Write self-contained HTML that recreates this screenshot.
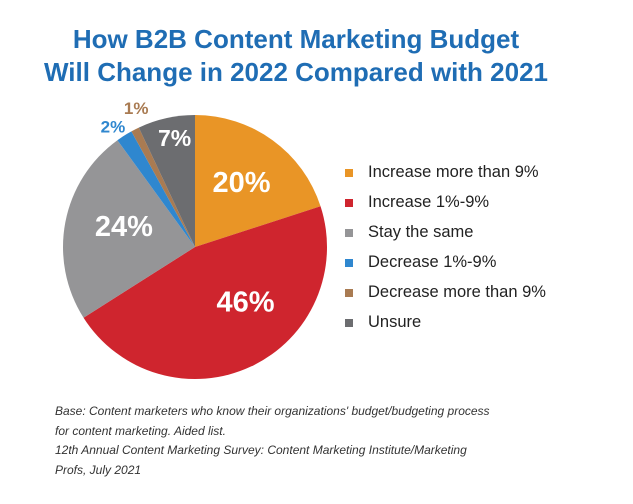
<!DOCTYPE html>
<html><head><meta charset="utf-8"><style>
body{margin:0;background:#fff;}
#wrap{position:relative;width:633px;height:504px;overflow:hidden;font-family:"Liberation Sans",sans-serif;}
.title{position:absolute;left:0;width:592px;text-align:center;color:#1f6db4;font-weight:bold;font-size:26px;line-height:32px;}
.leg{position:absolute;left:345px;font-size:16.5px;color:#222;height:20px;line-height:20px;}
.leg i{position:absolute;left:0;top:7px;width:8px;height:8px;}
.leg span{position:absolute;left:23px;top:0;white-space:nowrap;}
.note{position:absolute;left:55px;top:402px;font-size:12px;font-style:italic;color:#333;line-height:19.5px;}
</style></head><body>
<div id="wrap">
<div class="title" style="top:23px">How B2B Content Marketing Budget</div>
<div class="title" style="top:56px">Will Change in 2022 Compared with 2021</div>
<svg id="pie" width="633" height="504" style="position:absolute;left:0;top:0"></svg>
<div id="legend"></div>
<div class="note">Base: Content marketers who know their organizations' budget/budgeting process<br>for content marketing. Aided list.<br>12th Annual Content Marketing Survey: Content Marketing Institute/Marketing<br>Profs, July 2021</div>
</div>
<script>
const categories=["Increase more than 9%","Increase 1%-9%","Stay the same","Decrease 1%-9%","Decrease more than 9%","Unsure"];
const values=[20,46,24,2,1,7];
const labels=["20%","46%","24%","2%","1%","7%"];
const colors=["#e99526","#cf252e","#959597","#2f87cf","#a97b52","#6c6d70"];
const labelColors=["#fff","#fff","#fff","#2f87cf","#a97b52","#fff"];
const labelR=[0.6,0.57,0.56,1.1,1.14,0.84];
const labelDA=[0,-17,5,-2,4,2];
const labelSize=[29,29,29,17,17,23];
const cx=195,cy=247,R=132;
const svg=document.getElementById('pie');
const NS='http://www.w3.org/2000/svg';
const total=values.reduce((a,b)=>a+b,0);
function pt(a,r){const t=a*Math.PI/180;return [cx+r*Math.sin(t),cy-r*Math.cos(t)];}
let acc=0;
values.forEach((v,i)=>{
  const a0=acc/total*360,a1=(acc+v)/total*360;acc+=v;
  const p0=pt(a0,R),p1=pt(a1,R);
  const p=document.createElementNS(NS,'path');
  p.setAttribute('d',`M${cx},${cy}L${p0[0]},${p0[1]}A${R},${R} 0 ${a1-a0>180?1:0} 1 ${p1[0]},${p1[1]}Z`);
  p.setAttribute('fill',colors[i]);
  
  
  svg.appendChild(p);
  const m=(a0+a1)/2+labelDA[i];
  const lp=pt(m,R*labelR[i]);
  const t=document.createElementNS(NS,'text');
  t.setAttribute('x',lp[0]);t.setAttribute('y',lp[1]);
  t.setAttribute('text-anchor','middle');t.setAttribute('dominant-baseline','central');
  t.setAttribute('font-family','Liberation Sans, sans-serif');t.setAttribute('font-weight','bold');
  t.setAttribute('font-size',labelSize[i]);t.setAttribute('fill',labelColors[i]);
  t.textContent=labels[i];
  
  
  svg.appendChild(t);
});
const leg=document.getElementById('legend');
categories.forEach((c,i)=>{
  const d=document.createElement('div');d.className='leg';d.style.top=(162+i*30)+'px';
  
  
  d.innerHTML=`<i style="background:${colors[i]}"></i><span>${c}</span>`;
  leg.appendChild(d);
});
</script>
</body></html>
